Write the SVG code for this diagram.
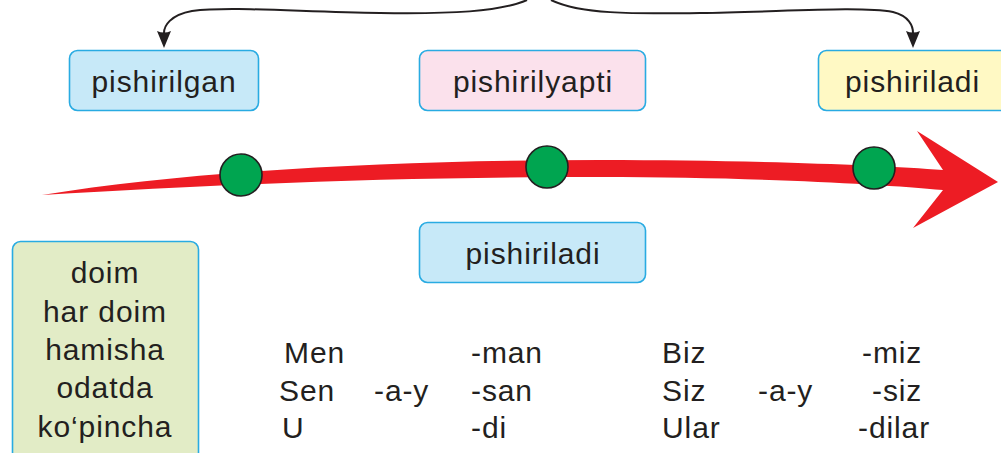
<svg xmlns="http://www.w3.org/2000/svg" width="1001" height="453" viewBox="0 0 1001 453">
<style>
text{font-family:"Liberation Sans",Arial,sans-serif;font-size:30px;fill:#231f20;letter-spacing:0.9px}
.c{text-anchor:middle}
.box{stroke:#29abe2;stroke-width:1.6}
.conn{fill:none;stroke:#231f20;stroke-width:2}
.head{fill:#231f20}
.dot{fill:#00a550;stroke:#231f20;stroke-width:1.6}
</style>
<rect width="1001" height="453" fill="#fff"/>
<g id="connectors">
<path class="conn" d="M527,0 C500,12 450,14 380,13 C300,12 230,6 192,11 C170,15 164,26 164,33"/>
<path class="conn" d="M551,0 C580,14 630,14 700,13 C780,12 860,6 893,12 C909,16 913,26 913,33"/>
<path class="head" d="M157,31 Q164,34 171,31 L164,48 Z"/>
<path class="head" d="M906,31 Q913,34 920,31 L913,48 Z"/>
<path id="timeline" fill="#ed1c24" d="M42,195 C200,170 400,160 600,160 C750,160 880,165 943,170 L917,131 L998,182 L913,228 L943,190 C880,184 750,177 600,177 C400,177 250,183 42,195 Z"/>
</g>
<g id="dot1"><circle class="dot" cx="241" cy="175" r="21"/></g>
<g id="dot2"><circle class="dot" cx="547" cy="167" r="21"/></g>
<g id="dot3"><circle class="dot" cx="874" cy="168" r="21"/></g>
<g id="past"><rect class="box" x="69.5" y="50.5" width="189" height="60" rx="8" fill="#c7e9f8"/><text class="c" x="164" y="92">pishirilgan</text></g>
<g id="present"><rect class="box" x="419.5" y="50.5" width="226" height="60" rx="8" fill="#fbe1ec"/><text class="c" x="533" y="92">pishirilyapti</text></g>
<g id="future"><rect class="box" x="818.5" y="50.5" width="200" height="60" rx="8" fill="#fff9c4"/><text x="845" y="92">pishiriladi</text></g>
<g id="habitual"><rect class="box" x="419.5" y="222.5" width="226" height="60" rx="8" fill="#c7e9f8"/><text class="c" x="533" y="264">pishiriladi</text></g>
<g id="adverbs"><rect class="box" x="12.5" y="241.5" width="186" height="230" rx="8" fill="#e2ecc6"/>
<text class="c" x="105" y="283">doim</text>
<text class="c" x="105" y="322">har doim</text>
<text class="c" x="105" y="360">hamisha</text>
<text class="c" x="105" y="398">odatda</text>
<text class="c" x="105" y="437">ko‘pincha</text></g>
<g id="conjugation">
<text x="284" y="363">Men</text>
<text x="279" y="401">Sen</text>
<text x="282" y="438">U</text>
<text x="374" y="401">-a-y</text>
<text x="471" y="363">-man</text>
<text x="471" y="401">-san</text>
<text x="471" y="438">-di</text>
<text x="662" y="363">Biz</text>
<text x="662" y="401">Siz</text>
<text x="662" y="438">Ular</text>
<text x="758" y="401">-a-y</text>
<text x="862" y="363">-miz</text>
<text x="872" y="401">-siz</text>
<text x="858" y="438">-dilar</text>
</g>
</svg>
